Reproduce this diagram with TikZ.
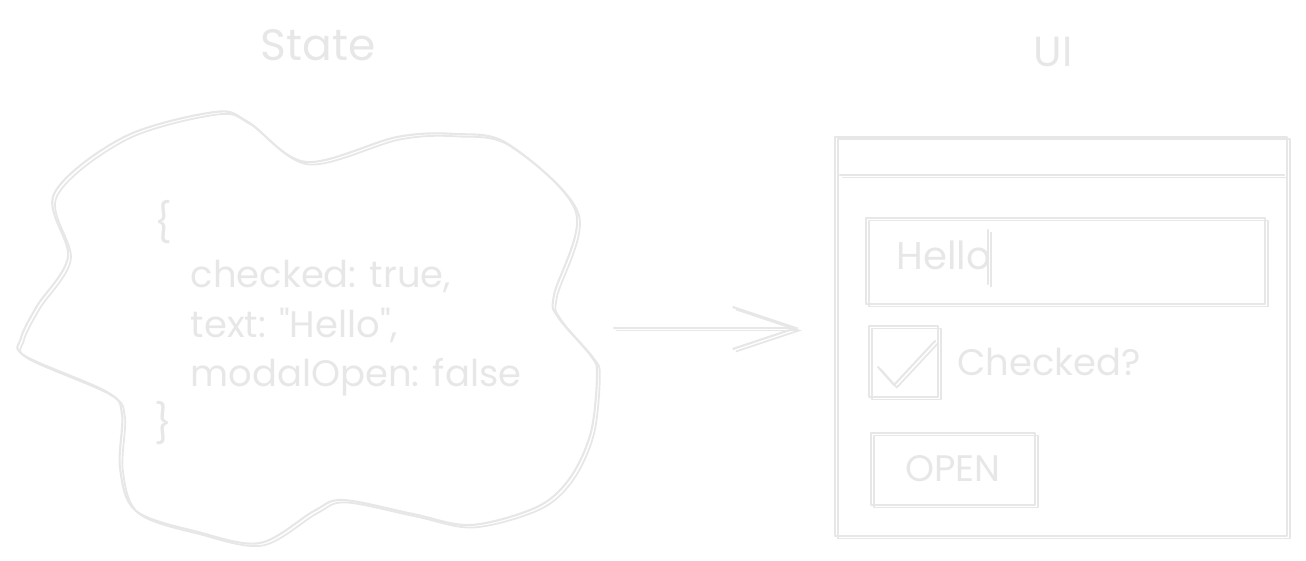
\documentclass[tikz,border=0pt]{standalone}
\usepackage{fontspec}
\setmainfont{Poppins}
\usetikzlibrary{arrows.meta,positioning}

\definecolor{ink}{RGB}{231,231,231}
\tikzset{
  sketch/.style={draw=ink, line width=0.6pt, line cap=round, line join=round,
    postaction={draw=ink, line width=0.5pt,
      transform canvas={shift={(0.8pt,-0.7pt)}}}},
  sketchbox/.style={sketch, rectangle, inner sep=0pt},
  label/.style={text=ink, inner sep=0pt},
  barb/.style={-{Straight Barb[length=6.3mm,width=4.2mm]}}
}

\begin{document}
\begin{tikzpicture}[x=0.01cm, y=-0.01cm]
      \useasboundingbox (0,0) rectangle (1306,561);

      % Titles
      \node[label, font=\fontsize{12.5}{15}\selectfont] (statetitle) at (318,45) {State};
      \node[label, font=\fontsize{12}{15}\selectfont] (uititle) at (1053,52) {UI};

      % State cloud
      \draw[sketch] plot[smooth cycle, tension=0.55] coordinates {
        (54,194) (124,137) (215,112) (248,122) (306,162) (397,137)
        (455,134) (508,144) (576,212) (554,295) (558,317) (591,356)
        (597,374) (591,432) (570,478) (537,507) (471,525) (413,514)
        (343,500) (314,511) (260,543) (198,532) (136,511) (120,468)
        (122,414) (107,392) (25,356) (21,338) (37,306) (68,257)};

      % State object
      \node[label, font=\fontsize{11}{13}\selectfont] (lbrace) at (163,222) {\{};
      \node[label, anchor=base west, align=left,
            font=\fontsize{10.5}{14.2}\selectfont] (code) at (190,387)
        {checked: true,\\text: \textquotedbl Hello\textquotedbl,\\modalOpen: false};
      \node[label, font=\fontsize{11}{13}\selectfont] (rbrace) at (163,423) {\}};

      % UI window
      \node[sketchbox, minimum width=4.52cm, minimum height=3.99cm] (win) at (1061,336.5) {};
      \coordinate (barL) at (840,175);
      \coordinate (barR) at (1284,175);
      \draw[sketch] (barL) -- (barR);

      % text input
      \node[sketchbox, minimum width=3.99cm, minimum height=0.86cm] (inbox) at (1065.5,261) {};
      \node[label, anchor=base west, font=\fontsize{11}{13}\selectfont] (hello) at (896,270) {Hello};
      \coordinate (curT) at (988,230);
      \coordinate (curB) at (988,284);
      \draw[sketch] (curT) -- (curB);

      % checkbox
      \node[sketchbox, minimum width=0.69cm, minimum height=0.71cm] (chkbox) at (903.5,361.5) {};
      \coordinate (tickA) at (878,367);
      \coordinate (tickB) at (894,385);
      \coordinate (tickC) at (935,341);
      \draw[sketch] (tickA) -- (tickB) -- (tickC);
      \node[label, font=\fontsize{10.5}{13}\selectfont] (chklabel) at (1049,362) {Checked?};

      % button
      \node[sketchbox, minimum width=1.64cm, minimum height=0.72cm, text=ink,
            font=\fontsize{10.5}{13}\selectfont] (openbtn) at (953,469) {OPEN};

      % Arrow from state to UI
      \coordinate (arrowS) at (614,328);
      \coordinate (arrowE) at (799,328);
      \draw[sketch, barb] (arrowS) -- (arrowE);
\end{tikzpicture}
\end{document}
